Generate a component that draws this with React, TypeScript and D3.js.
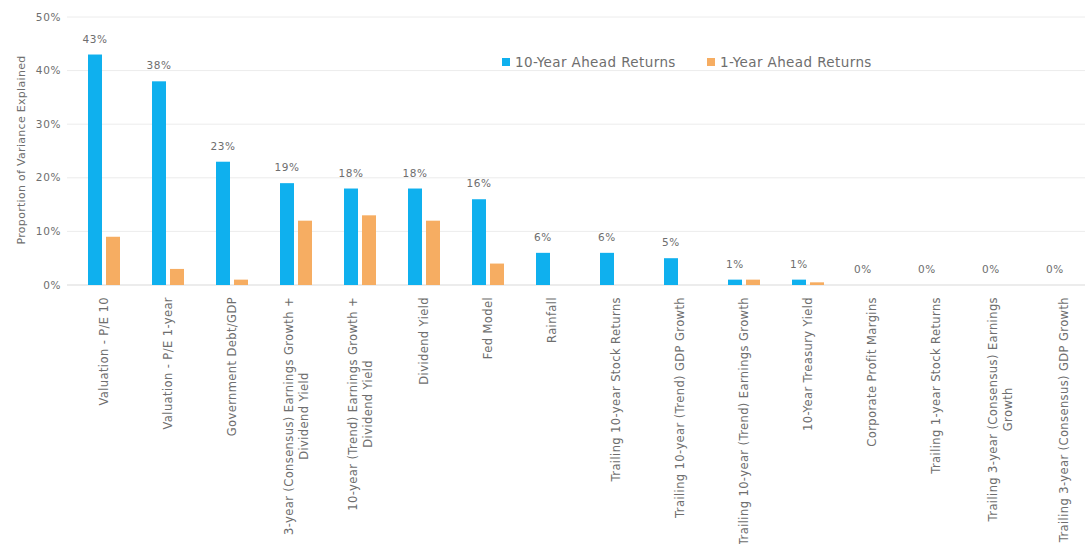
import React, { useEffect, useRef } from "react";
import * as d3 from "d3";

const categories: string[][] = [
  ["Valuation - P/E 10"],
  ["Valuation - P/E 1-year"],
  ["Government Debt/GDP"],
  ["3-year (Consensus) Earnings Growth +", "Dividend Yield"],
  ["10-year (Trend) Earnings Growth +", "Dividend Yield"],
  ["Dividend Yield"],
  ["Fed Model"],
  ["Rainfall"],
  ["Trailing 10-year Stock Returns"],
  ["Trailing 10-year (Trend) GDP Growth"],
  ["Trailing 10-year (Trend) Earnings Growth"],
  ["10-Year Treasury Yield"],
  ["Corporate Profit Margins"],
  ["Trailing 1-year Stock Returns"],
  ["Trailing 3-year (Consensus) Earnings", "Growth"],
  ["Trailing 3-year (Consensus) GDP Growth"],
];
const tenYear: number[] = [43, 38, 23, 19, 18, 18, 16, 6, 6, 5, 1, 1, 0, 0, 0, 0];
const oneYear: number[] = [9, 3, 1, 12, 13, 12, 4, 0, 0, 0, 1, 0.5, 0, 0, 0, 0];
const yTicks: number[] = [0, 10, 20, 30, 40, 50];
const seriesNames: string[] = ["10-Year Ahead Returns", "1-Year Ahead Returns"];
const colors: string[] = ["#0FB0EE", "#F6AD62"];

const W = 1085;
const H = 544;
const FONT = "'DejaVu Sans', sans-serif";
const TXT = "#6e6e6e";

export default function App() {
  const ref = useRef<SVGSVGElement | null>(null);
  useEffect(() => {
    const svg = d3.select(ref.current);
    svg.selectAll("*").remove();
    const x = d3.scaleBand<number>().domain(d3.range(categories.length)).range([72, 1096]);
    const y = d3.scaleLinear().domain([0, 50]).range([285, 17]);
    const barW = 14;
    const gap = 4;

    // gridlines
    svg.append("g").selectAll("line").data(yTicks).join("line")
      .attr("x1", 67).attr("x2", W).attr("y1", (d) => y(d)).attr("y2", (d) => y(d))
      .attr("stroke", (d) => (d === 0 ? "#d9d9d9" : "#ececec")).attr("stroke-width", 1);

    // y tick labels
    svg.append("g").selectAll("text").data(yTicks).join("text")
      .attr("x", 61).attr("y", (d) => y(d)).attr("dy", "0.35em")
      .attr("text-anchor", "end").attr("font-family", FONT).attr("font-size", 10.5)
      .attr("letter-spacing", 0.6)
      .attr("fill", TXT).text((d) => `${d}%`);

    // y title
    svg.append("text")
      .attr("transform", `translate(21,150) rotate(-90)`)
      .attr("text-anchor", "middle").attr("dy", "0.35em")
      .attr("font-family", FONT).attr("font-size", 11).attr("letter-spacing", 0.3)
      .attr("fill", TXT)
      .text("Proportion of Variance Explained");

    const cx = (i: number) => (x(i) as number) + x.bandwidth() / 2;

    // bars
    svg.append("g").selectAll("rect").data(tenYear).join("rect")
      .attr("x", (_, i) => cx(i) - gap / 2 - barW).attr("width", barW)
      .attr("y", (d) => y(d)).attr("height", (d) => y(0) - y(d)).attr("fill", colors[0]);
    svg.append("g").selectAll("rect").data(oneYear).join("rect")
      .attr("x", (_, i) => cx(i) + gap / 2).attr("width", barW)
      .attr("y", (d) => y(d)).attr("height", (d) => y(0) - y(d)).attr("fill", colors[1]);

    // data labels
    svg.append("g").selectAll("text").data(tenYear).join("text")
      .attr("x", (_, i) => cx(i) - gap / 2 - barW / 2).attr("y", (d) => y(d) - 12)
      .attr("text-anchor", "middle").attr("font-family", FONT).attr("font-size", 10.5)
      .attr("letter-spacing", 0.6)
      .attr("fill", TXT).text((d) => `${d}%`);

    // x labels
    const top = 297;
    const lineH = 15;
    categories.forEach((lines, i) => {
      const g = svg.append("g");
      const texts = lines.map((ln) =>
        g.append("text").attr("font-family", FONT).attr("font-size", 11.5)
          .attr("letter-spacing", 0.4).attr("fill", TXT).text(ln)
      );
      const lens = texts.map((t) => (t.node() as SVGTextElement).getComputedTextLength());
      const maxL = Math.max(...lens);
      const n = lines.length;
      texts.forEach((t, k) => {
        const off = (k - (n - 1) / 2) * lineH;
        const px = cx(i) + off;
        const py = top + maxL / 2;
        t.attr("text-anchor", "middle").attr("dy", "0.35em")
          .attr("transform", `translate(${px},${py}) rotate(-90)`);
      });
    });

    // legend
    const lg = svg.append("g").attr("transform", "translate(502,62)");
    const items = [{ x: 0 }, { x: 205 }];
    items.forEach((it, k) => {
      lg.append("rect").attr("x", it.x).attr("y", -4).attr("width", 8).attr("height", 8).attr("fill", colors[k]);
      lg.append("text").attr("x", it.x + 13).attr("y", 0).attr("dy", "0.35em")
        .attr("font-family", FONT).attr("font-size", 13.5).attr("letter-spacing", 0.4)
        .attr("fill", TXT).text(seriesNames[k]);
    });
  }, []);
  return (
    <svg ref={ref} width={W} height={H}
      style={{ position: "absolute", left: 0, top: 0, background: "#fff" }} />
  );
}
